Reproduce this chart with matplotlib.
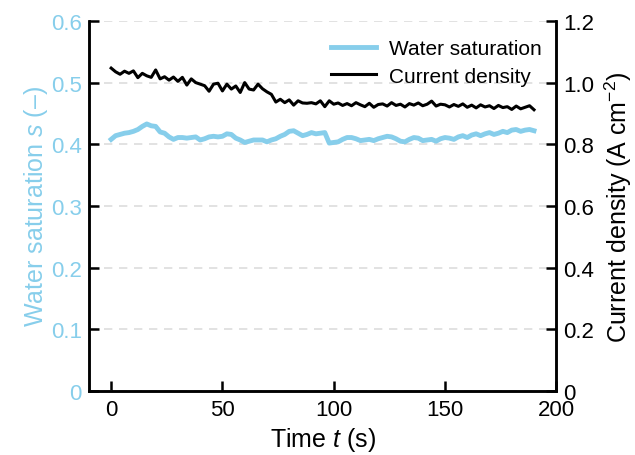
import matplotlib
matplotlib.use("Agg")
import matplotlib.pyplot as plt
from matplotlib.lines import Line2D

plt.rcParams['font.family'] = ['Liberation Sans', 'DejaVu Sans']
plt.rcParams['mathtext.fontset'] = 'custom'
plt.rcParams['mathtext.rm'] = 'Liberation Sans'
plt.rcParams['mathtext.it'] = 'Liberation Sans:italic'

time_s = [0, 2, 4, 6, 8, 10, 12, 14, 16, 18, 20, 22, 24, 26, 28, 30, 32, 34, 36, 38,
          40, 42, 44, 46, 48, 50, 52, 54, 56, 58, 60, 62, 64, 66, 68, 70, 72, 74, 76, 78,
          80, 82, 84, 86, 88, 90, 92, 94, 96, 98, 100, 102, 104, 106, 108, 110, 112, 114,
          116, 118, 120, 122, 124, 126, 128, 130, 132, 134, 136, 138, 140, 142, 144, 146,
          148, 150, 152, 154, 156, 158, 160, 162, 164, 166, 168, 170, 172, 174, 176, 178,
          180, 182, 184, 186, 188, 190]

water_saturation = [0.408, 0.414, 0.416, 0.418, 0.419, 0.421, 0.424, 0.429, 0.433, 0.430,
                    0.429, 0.420, 0.418, 0.412, 0.408, 0.411, 0.411, 0.410, 0.411, 0.412,
                    0.407, 0.409, 0.412, 0.413, 0.412, 0.413, 0.417, 0.416, 0.410, 0.407,
                    0.403, 0.405, 0.407, 0.407, 0.407, 0.404, 0.407, 0.409, 0.413, 0.416,
                    0.421, 0.422, 0.418, 0.414, 0.416, 0.419, 0.417, 0.418, 0.419, 0.402,
                    0.403, 0.404, 0.408, 0.411, 0.411, 0.409, 0.406, 0.407, 0.408, 0.406,
                    0.409, 0.411, 0.413, 0.412, 0.409, 0.405, 0.404, 0.408, 0.411, 0.410,
                    0.406, 0.407, 0.408, 0.405, 0.409, 0.411, 0.410, 0.408, 0.412, 0.414,
                    0.411, 0.415, 0.417, 0.414, 0.417, 0.419, 0.416, 0.418, 0.421, 0.419,
                    0.423, 0.424, 0.421, 0.423, 0.424, 0.422]

current_density = [1.047, 1.035, 1.027, 1.037, 1.030, 1.038, 1.016, 1.030, 1.022, 1.017,
                   1.041, 1.012, 1.019, 1.008, 1.018, 1.004, 1.017, 0.992, 1.012, 1.000,
                   0.995, 0.990, 0.972, 0.995, 0.998, 0.973, 0.995, 0.979, 0.989, 0.968,
                   1.000, 0.979, 0.976, 0.995, 0.980, 0.970, 0.962, 0.937, 0.946, 0.935,
                   0.944, 0.927, 0.941, 0.934, 0.933, 0.935, 0.931, 0.941, 0.922, 0.941,
                   0.930, 0.934, 0.926, 0.932, 0.925, 0.935, 0.928, 0.922, 0.933, 0.920,
                   0.929, 0.931, 0.924, 0.935, 0.926, 0.930, 0.921, 0.932, 0.927, 0.934,
                   0.925, 0.930, 0.940, 0.924, 0.930, 0.928, 0.921, 0.929, 0.923, 0.931,
                   0.920, 0.927, 0.918, 0.928, 0.921, 0.925, 0.916, 0.926, 0.919, 0.922,
                   0.913, 0.924, 0.915, 0.920, 0.925, 0.912]

x_ticks = [0, 50, 100, 150, 200]
left_ticks = [0, 0.1, 0.2, 0.3, 0.4, 0.5, 0.6]
left_tick_labels = ['0', '0.1', '0.2', '0.3', '0.4', '0.5', '0.6']
right_ticks = [0, 0.2, 0.4, 0.6, 0.8, 1.0, 1.2]
right_tick_labels = ['0', '0.2', '0.4', '0.6', '0.8', '1.0', '1.2']

blue = '#87CEEB'

fig = plt.figure(figsize=(6.35, 4.56), dpi=100)
ax = fig.add_axes([0.140, 0.140, 0.736, 0.812])
ax2 = ax.twinx()

ax.plot(time_s, water_saturation, color=blue, lw=3.5, solid_joinstyle='round', zorder=3)
ax2.plot(time_s, current_density, color='black', lw=2.2, zorder=3)

ax.set_xlim(-10, 200)
ax.set_ylim(0, 0.6)
ax2.set_ylim(0, 1.2)

ax.set_xticks(x_ticks)
ax.set_yticks(left_ticks)
ax.set_yticklabels(left_tick_labels)
ax2.set_yticks(right_ticks)
ax2.set_yticklabels(right_tick_labels)

ax.yaxis.grid(True, linestyle=(0, (5, 4)), color='#dddddd', lw=1.2)
ax.set_axisbelow(True)

for a in (ax, ax2):
    a.spines['top'].set_visible(False)
    for s in ('left', 'right', 'bottom'):
        a.spines[s].set_linewidth(1.8)
    a.tick_params(direction='in', length=7, width=1.8, labelsize=16)

ax.tick_params(axis='y', labelcolor=blue, pad=5)
ax.tick_params(axis='x', pad=6)
ax2.tick_params(axis='y', pad=5)

ax.set_xlabel('Time $t$ (s)', fontsize=18, labelpad=3)
ax.set_ylabel('Water saturation $s$ (–)', fontsize=18, color=blue, labelpad=1)
ax2.set_ylabel('Current density (A cm$^{-2}$)', fontsize=18, labelpad=6)

handles = [Line2D([], [], color=blue, lw=3.5), Line2D([], [], color='black', lw=2.2)]
ax.legend(handles, ['Water saturation', 'Current density'], loc='upper right',
          frameon=False, fontsize=15, handlelength=2.2, handletextpad=0.6,
          labelspacing=0.4, borderaxespad=0.3, bbox_to_anchor=(1.0, 0.99))

fig.savefig('out.png', dpi=100)
